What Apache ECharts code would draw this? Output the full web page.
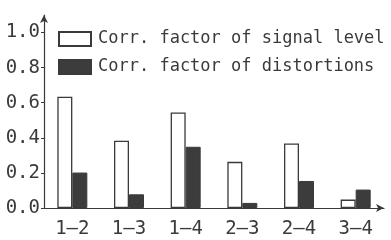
<!DOCTYPE html>
<html><head><meta charset="utf-8">
<script src="https://cdn.jsdelivr.net/npm/echarts@6/dist/echarts.min.js"></script>
<style>html,body{margin:0;padding:0;background:#fff}#c{width:391px;height:240px}</style>
</head><body><div id="c"></div>
<script>
const categories = ['1\u20132','1\u20133','1\u20134','2\u20133','2\u20134','3\u20134'];
const signalLevel = [0.634, 0.383, 0.545, 0.263, 0.368, 0.048];
const distortions = [0.202, 0.078, 0.349, 0.029, 0.154, 0.105];
const seriesNames = ['Corr. factor of signal level', 'Corr. factor of distortions'];
const yTicks = [0, 0.2, 0.4, 0.6, 0.8, 1.0];

const FONT = 'DejaVu Sans Mono';
const INK = '#3a3a3a';
const chart = echarts.init(document.getElementById('c'), null, {renderer: 'canvas'});
chart.setOption({
  animation: false,
  backgroundColor: '#fff',
  grid: {left: 44, right: 7, top: 15, bottom: 32},
  legend: {
    orient: 'vertical', left: 58, top: 29, padding: 0, itemWidth: 32, itemHeight: 14, itemGap: 8,
    icon: 'rect',
    textStyle: {fontFamily: FONT, fontSize: 17, color: INK, padding: [0,0,0,2], lineHeight: 20},
    data: seriesNames
  },
  xAxis: {
    type: 'category', data: categories,
    axisLine: {lineStyle: {color: INK, width: 1.2}, symbol: ['none', 'arrow'], symbolSize: [6, 8]},
    axisTick: {show: false},
    axisLabel: {fontFamily: FONT, fontSize: 19, color: INK, margin: 12}
  },
  yAxis: {
    type: 'value', min: 0, max: 1.1, interval: 0.2,
    splitLine: {show: false},
    axisLine: {show: true, lineStyle: {color: INK, width: 1.2}, symbol: ['none', 'arrow'], symbolSize: [6, 8]},
    axisTick: {show: true, length: 3, lineStyle: {color: INK}},
    axisLabel: {fontFamily: FONT, fontSize: 19, color: INK, margin: 4, showMaxLabel: false,
      formatter: v => yTicks.some(t => Math.abs(t - v) < 1e-6) ? v.toFixed(1) : ''}
  },
  series: [
    {name: seriesNames[0], type: 'bar', data: signalLevel, barWidth: 15, barGap: '0%',
     itemStyle: {color: '#ffffff', borderColor: INK, borderWidth: 1.3}},
    {name: seriesNames[1], type: 'bar', data: distortions, barWidth: 15,
     itemStyle: {color: '#3c3c3c', borderColor: INK, borderWidth: 1}}
  ]
});
</script></body></html>
